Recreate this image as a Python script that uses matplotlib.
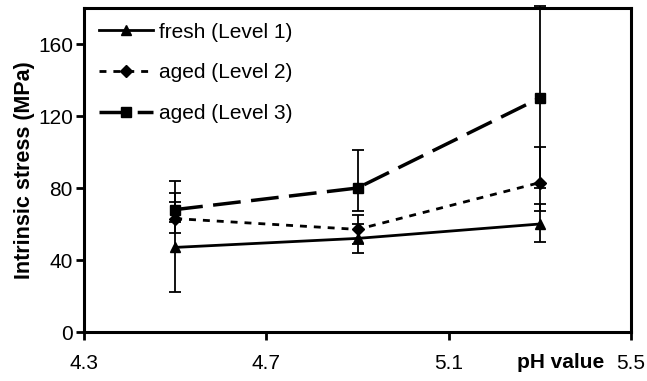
import matplotlib
matplotlib.use("Agg")
import numpy as np
import matplotlib.pyplot as plt

plt.rcParams['font.family'] = ['Liberation Sans', 'DejaVu Sans']

# pH values
ph = [4.5, 4.9, 5.3]

# intrinsic stress (MPa) and error bar ends
fresh = [47, 52, 60]
fresh_lo = [22, 44, 50]
fresh_hi = [72, 60, 71]

aged2 = [63, 57, 83]
aged2_lo = [55, 49, 67]
aged2_hi = [77, 65, 103]

aged3 = [68, 80, 130]
aged3_lo = [61, 67, 80]
aged3_hi = [84, 101, 181]

labels = ['fresh (Level 1)', 'aged (Level 2)', 'aged (Level 3)']


def err(y, lo, hi):
    y = np.array(y)
    return [y - np.array(lo), np.array(hi) - y]


fig = plt.figure(figsize=(6.47, 3.81), dpi=100)
ax = fig.add_axes([84 / 647, 1 - 332 / 381, (631 - 84) / 647, (332 - 8) / 381])

series = [
    (fresh, fresh_lo, fresh_hi, '^', None, 2.0, labels[0]),
    (aged2, aged2_lo, aged2_hi, 'D', (2.5, 2.5), 2.0, labels[1]),
    (aged3, aged3_lo, aged3_hi, 's', (8, 3), 2.5, labels[2]),
]

handles = []
for y, lo, hi, mk, dash, lw, lab in series:
    ax.errorbar(ph, y, yerr=err(y, lo, hi), fmt='none', ecolor='black',
                elinewidth=1.3, capsize=4, capthick=1.3, clip_on=False, zorder=2)
    ln, = ax.plot(ph, y, color='black', lw=lw, marker=mk, markersize=6.5,
                  label=lab, zorder=3)
    if dash is not None:
        ln.set_dashes(dash)
    handles.append(ln)

ax.set_xlim(4.3, 5.5)
ax.set_ylim(0, 180)
ax.set_xticks([4.3, 4.7, 5.1, 5.5])
ax.set_xticklabels(['4.3', '4.7', '5.1', '5.5'])
ax.set_yticks([0, 40, 80, 120, 160])
ax.tick_params(axis='both', direction='out', length=6, width=2, labelsize=15, colors='black')
ax.tick_params(axis='x', pad=10)
ax.tick_params(axis='y', pad=2)

for s in ax.spines.values():
    s.set_linewidth(2.2)
    s.set_color('black')

ax.set_ylabel('Intrinsic stress (MPa)', fontsize=15.5, fontweight='bold', labelpad=2)
fig.text(561 / 647, 1 - 362 / 381, 'pH value', fontsize=15, fontweight='bold',
         ha='center', va='center')

ax.legend(handles=handles, loc='upper left', frameon=False, fontsize=15,
          handlelength=2.6, handletextpad=0.3, labelspacing=1.05,
          borderaxespad=0.3, bbox_to_anchor=(0.0, 1.0))

fig.savefig('out.png', dpi=100)
